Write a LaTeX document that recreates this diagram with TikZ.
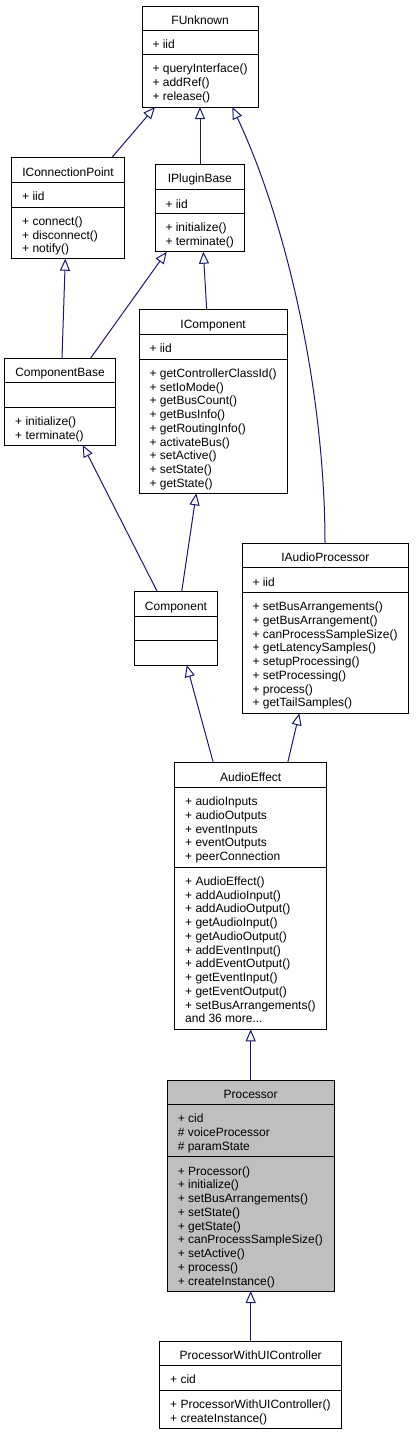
\documentclass[tikz,border=0pt]{standalone}
\usepackage{fontspec}
\setmainfont{Liberation Sans}
\usetikzlibrary{arrows.meta}
\definecolor{edgeblue}{HTML}{191970}
\definecolor{procgray}{HTML}{BFBFBF}
\tikzset{
  cls/.style={draw=black, line width=1pt, inner sep=0pt, outer sep=0pt, rectangle},
  sep/.style={draw=black, line width=1pt},
  txt/.style={inner sep=0pt, outer sep=0pt, font=\fontsize{12pt}{13.75pt}\selectfont},
  inh/.style={draw=edgeblue, line width=1pt, -{Triangle[open, length=12pt, width=10pt, line width=1pt]}},
}
% #1 name, #2 L, #3 R, #4 T, #5 s1, #6 s2, #7 B, #8 fill
\newcommand\umlbox[8]{%
  \node[cls, fill=#8, minimum width={(#3-#2)*1pt}, minimum height={(#7-#4)*1pt}, anchor=north west] (#1) at (#2pt,-#4pt) {};
  \draw[sep] ([yshift={-(#5-#4)*1pt}]#1.north west) -- ([yshift={-(#5-#4)*1pt}]#1.north east);
  \draw[sep] ([yshift={-(#6-#4)*1pt}]#1.north west) -- ([yshift={-(#6-#4)*1pt}]#1.north east);
}
\newcommand\umltitle[2]{%
  \node[txt, anchor=base] (#1-title) at ([yshift=-18.3pt]#1.north) {#2};
}
% #1 box name, #2 tag, #3 offset of section top from box top, #4 list of lines
\newcommand\seclines[4]{%
  \foreach \t [count=\i from 0] in {#4} {%
    \node[txt, anchor=base west] (#1-#2-\i) at ([xshift=10.5pt, yshift={-((#3)+18.3+\i*13.75)*1pt}]#1.north west) {\t};
  }%
}
\begin{document}
\begin{tikzpicture}
\fill[white] (0,0) rectangle (415pt,-1435pt);
\useasboundingbox (0,0) rectangle (415pt,-1435pt);

% FUnknown
\umlbox{fu}{142}{258.3}{6}{30}{54.3}{107}{white}
\umltitle{fu}{FUnknown}
\seclines{fu}{a}{30-6}{+ iid}
\seclines{fu}{m}{54.3-6}{+ queryInterface(), + addRef(), + release()}

% IConnectionPoint
\umlbox{icp}{11.7}{124.3}{157.7}{182.3}{207}{258.7}{white}
\umltitle{icp}{IConnectionPoint}
\seclines{icp}{a}{182.3-157.7}{+ iid}
\seclines{icp}{m}{207-157.7}{+ connect(), + disconnect(), + notify()}

% IPluginBase
\umlbox{ipb}{155}{244.7}{164.3}{189.7}{213.3}{251.7}{white}
\umltitle{ipb}{IPluginBase}
\seclines{ipb}{a}{189.7-164.3}{+ iid}
\seclines{ipb}{m}{213.3-164.3}{+ initialize(), + terminate()}

% ComponentBase
\umlbox{cb}{4.7}{115.3}{358}{382.7}{407}{445}{white}
\umltitle{cb}{ComponentBase}
\seclines{cb}{m}{407-358}{+ initialize(), + terminate()}

% IComponent
\umlbox{ic}{139}{287.3}{309.7}{334}{359}{493.3}{white}
\umltitle{ic}{IComponent}
\seclines{ic}{a}{334-309.7}{+ iid}
\seclines{ic}{m}{359-309.7}{+ getControllerClassId(), + setIoMode(), + getBusCount(), + getBusInfo(), + getRoutingInfo(), + activateBus(), + setActive(), + setState(), + getState()}

% Component
\umlbox{comp}{134.3}{217.7}{591.7}{616}{640.3}{665}{white}
\umltitle{comp}{Component}

% IAudioProcessor
\umlbox{iap}{242}{408.7}{543.3}{567.7}{592.3}{713.3}{white}
\umltitle{iap}{IAudioProcessor}
\seclines{iap}{a}{567.7-543.3}{+ iid}
\seclines{iap}{m}{592.3-543.3}{+ setBusArrangements(), + getBusArrangement(), + canProcessSampleSize(), + getLatencySamples(), + setupProcessing(), + setProcessing(), + process(), + getTailSamples()}

% AudioEffect
\umlbox{ae}{174.7}{326.7}{762.7}{787.3}{867}{1029.3}{white}
\umltitle{ae}{AudioEffect}
\seclines{ae}{a}{787.3-762.7}{+ audioInputs, + audioOutputs, + eventInputs, + eventOutputs, + peerConnection}
\seclines{ae}{m}{867-762.7}{+ AudioEffect(), + addAudioInput(), + addAudioOutput(), + getAudioInput(), + getAudioOutput(), + addEventInput(), + addEventOutput(), + getEventInput(), + getEventOutput(), + setBusArrangements(), and 36 more.{}.{}.}

% Processor
\umlbox{proc}{167.3}{334}{1080}{1104.3}{1156.7}{1291}{procgray}
\umltitle{proc}{Processor}
\seclines{proc}{a}{1104.3-1080}{+ cid, \# voiceProcessor, \# paramState}
\seclines{proc}{m}{1156.7-1080}{+ Processor(), + initialize(), + setBusArrangements(), + setState(), + getState(), + canProcessSampleSize(), + setActive(), + process(), + createInstance()}

% ProcessorWithUIController
\umlbox{pw}{159.7}{341.7}{1341}{1365.3}{1390}{1428}{white}
\umltitle{pw}{ProcessorWithUIController}
\seclines{pw}{a}{1365.3-1341}{+ cid}
\seclines{pw}{m}{1390-1341}{+ ProcessorWithUIController(), + createInstance()}

% inheritance edges
\draw[inh] ([xshift=100pt]icp.north west) -- ([xshift=13pt]fu.south west);
\draw[inh] ([xshift=45pt]ipb.north west) -- ([xshift=58pt]fu.south west);
\draw[inh] ([xshift=83pt]iap.north west) .. controls (325pt,-400pt) and (290pt,-230pt) .. ([xshift=90.3pt]fu.south west);
\draw[inh] ([xshift=57.3pt]cb.north west) -- ([xshift=53.6pt]icp.south west);
\draw[inh] ([xshift=86pt]cb.north west) -- ([xshift=11.7pt]ipb.south west);
\draw[inh] ([xshift=67.7pt]ic.north west) -- ([xshift=48.3pt]ipb.south west);
\draw[inh] ([xshift=23pt]comp.north west) -- ([xshift=78pt]cb.south west);
\draw[inh] ([xshift=47.4pt]comp.north west) -- ([xshift=57.3pt]ic.south west);
\draw[inh] ([xshift=38.6pt]ae.north west) -- ([xshift=52.4pt]comp.south west);
\draw[inh] ([xshift=113pt]ae.north west) -- ([xshift=57.3pt]iap.south west);
\draw[inh] ([xshift=83.4pt]proc.north west) -- ([xshift=76pt]ae.south west);
\draw[inh] ([xshift=91pt]pw.north west) -- ([xshift=83.4pt]proc.south west);
\end{tikzpicture}
\end{document}
